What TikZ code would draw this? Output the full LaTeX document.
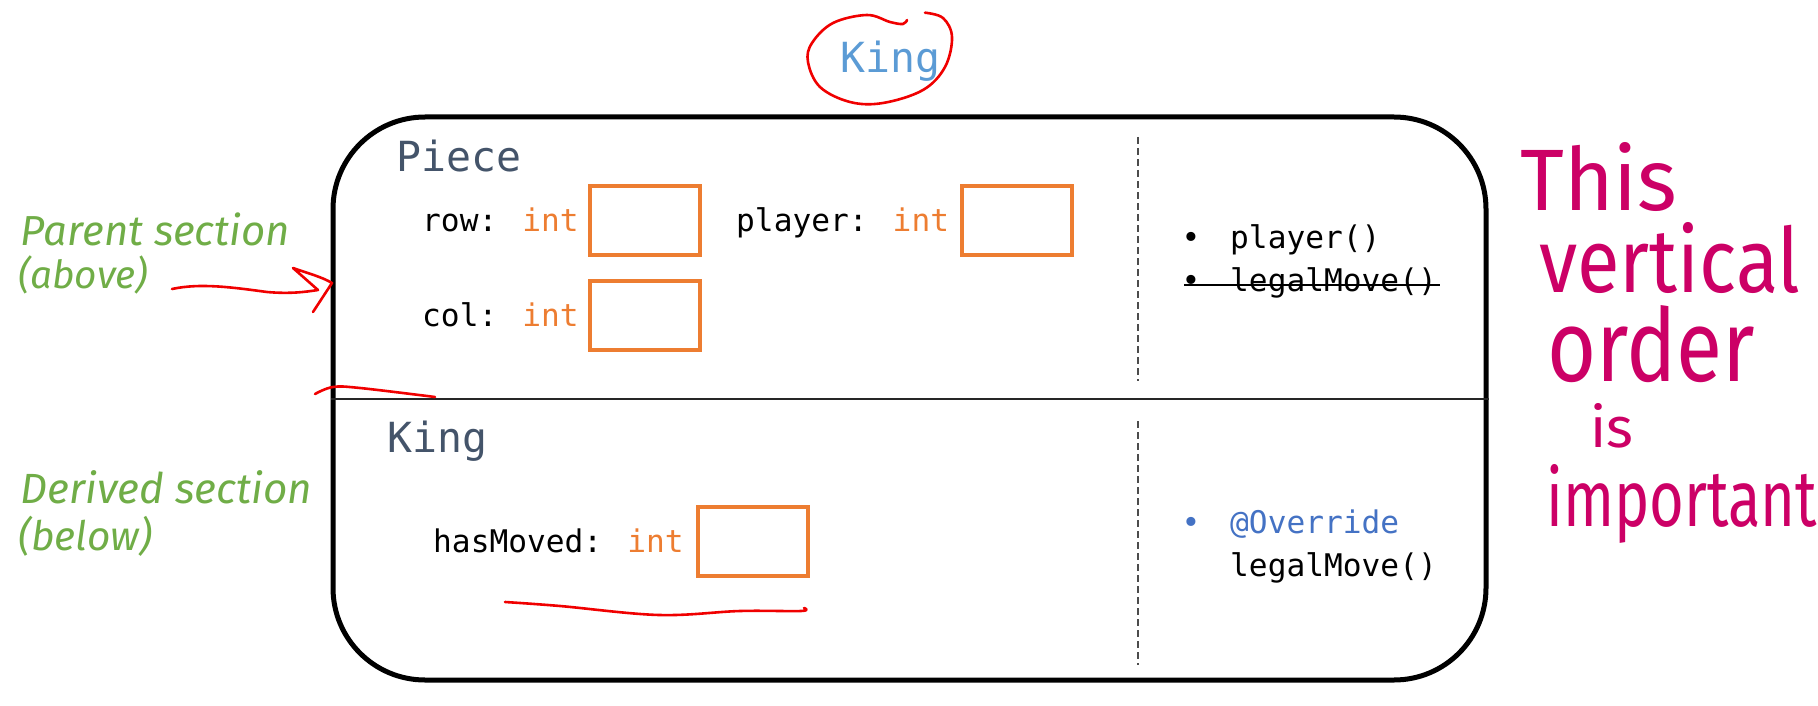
\documentclass[tikz,border=0pt]{standalone}
\usepackage{fontspec}
\usepackage{graphicx}
\newfontfamily\codefont{DejaVu Sans Mono}
\newfontfamily\handfont{Fira Sans}
\definecolor{headcol}{HTML}{44546A}
\definecolor{orangec}{HTML}{ED7D31}
\definecolor{kingblue}{HTML}{5B9BD5}
\definecolor{ovblue}{HTML}{4472C4}
\definecolor{notegreen}{HTML}{70AD47}
\definecolor{inkmag}{HTML}{CC0066}
\definecolor{inkred}{HTML}{F00000}
\tikzset{
  code/.style={font=\codefont\fontsize{31.2}{38}\selectfont, anchor=base west, inner sep=0pt},
  head/.style={font=\codefont\fontsize{41.5}{50}\selectfont, text=headcol, anchor=base west, inner sep=0pt},
  obox/.style={draw=orangec, line width=4pt, minimum width=110pt, minimum height=69pt, inner sep=0pt},
  gnote/.style={text=notegreen, anchor=base west, inner sep=0pt},
  mnote/.style={text=inkmag, anchor=base west, inner sep=0pt},
  redink/.style={draw=inkred, line width=2.6pt, line cap=round, line join=round},
  sepdash/.style={draw=black!70, line width=1.3pt, dash pattern=on 7pt off 4pt},
}
\begin{document}
\begin{tikzpicture}[x=1pt,y=-1pt]
\useasboundingbox (0,0) rectangle (1818,706);
% outer frame
\node[draw=black, line width=5pt, rounded corners=92pt, minimum width=1153pt, minimum height=563pt, inner sep=0pt] (frame) at (909.5,398.5) {};
\draw[line width=2.4pt, black!85] (frame.west |- 0,399) coordinate (divl) -- (frame.east |- 0,399) coordinate (divr);
\draw[sepdash] (1138,137) -- (1138,381);
\draw[sepdash] (1138,421) -- (1138,665);

% title
\node[head, text=kingblue] (title) at (840,72.7) {King};
\node[head] (piece) at (396,171.7) {Piece};
\node[head] (king) at (387,452.7) {King};

% fields
\node[code] (rowlbl) at (422,231.7) {row: \textcolor{orangec}{int}};
\node[obox] (rowbox) at (645,220.5) {};
\node[code] (playerlbl) at (736,231.7) {player: \textcolor{orangec}{int}};
\node[obox] (playerbox) at (1017,220.5) {};
\node[code] (collbl) at (422,326.7) {col: \textcolor{orangec}{int}};
\node[obox] (colbox) at (645,315.5) {};
\node[code] (movedlbl) at (433,552.7) {hasMoved: \textcolor{orangec}{int}};
\node[obox] (movedbox) at (752.5,541) {};

% methods
\node[code] (b1) at (1181.5,248) {•};
\node[code] (m1) at (1230,248) {player()};
\node[code] (b2) at (1181.5,291) {•};
\node[code] (m2) at (1230,291) {legalMove()};
\draw[line width=1.6pt] (1184,285) -- (1440,285);
\node[code, text=ovblue] (b3) at (1181.5,533) {•};
\node[code, text=ovblue] (m3) at (1230,533) {@Override};
\node[code] (m4) at (1230,576) {legalMove()};

% green notes
\node[gnote] (par1) at (20.7,245) {\resizebox{269pt}{!}{\handfont\itshape Parent section}};
\node[gnote] (par2) at (18,288) {\resizebox{130pt}{!}{\handfont\itshape (above)}};
\node[gnote] (der1) at (20.7,503) {\resizebox{291pt}{!}{\handfont\itshape Derived section}};
\node[gnote] (der2) at (18,550) {\resizebox{134pt}{!}{\handfont\itshape (below)}};

% magenta note
\node[mnote] (w1) at (1520,210) {\resizebox{157pt}{68pt}{\handfont This}};
\node[mnote] (w2) at (1539,292) {\resizebox{261pt}{70pt}{\handfont vertical}};
\node[mnote] (w3) at (1547,381) {\resizebox{208pt}{76pt}{\handfont order}};
\node[mnote] (w4) at (1590,447) {\resizebox{43pt}{44pt}{\handfont is}};
\node[mnote] (w5) at (1546,526) {\resizebox{271pt}{62pt}{\handfont important}};

% red ink
\draw[redink] plot[smooth, tension=0.6] coordinates {(907,20) (903,24) (890,22) (867,15) (833,23) (812,43) (808,62) (820,87) (850,102) (883,103) (923,90) (945,67) (952,37) (943,18) (925,12.7)};
\coordinate (arrstart) at (172,289);
\draw[redink] (arrstart) .. controls (200,283) and (230,287) .. (267,292) .. controls (290,294) and (305,292) .. (318,290) -- (293,268) .. controls (310,274) and (322,277) .. (332,283) -- (313,312);
\draw[redink] plot[smooth, tension=0.6] coordinates {(315,394) (333,387) (360,388) (435,397)};
\draw[redink] plot[smooth, tension=0.6] coordinates {(505,602) (560,606) (659,615) (740,611) (801,611) (804,608)};
\end{tikzpicture}
\end{document}
